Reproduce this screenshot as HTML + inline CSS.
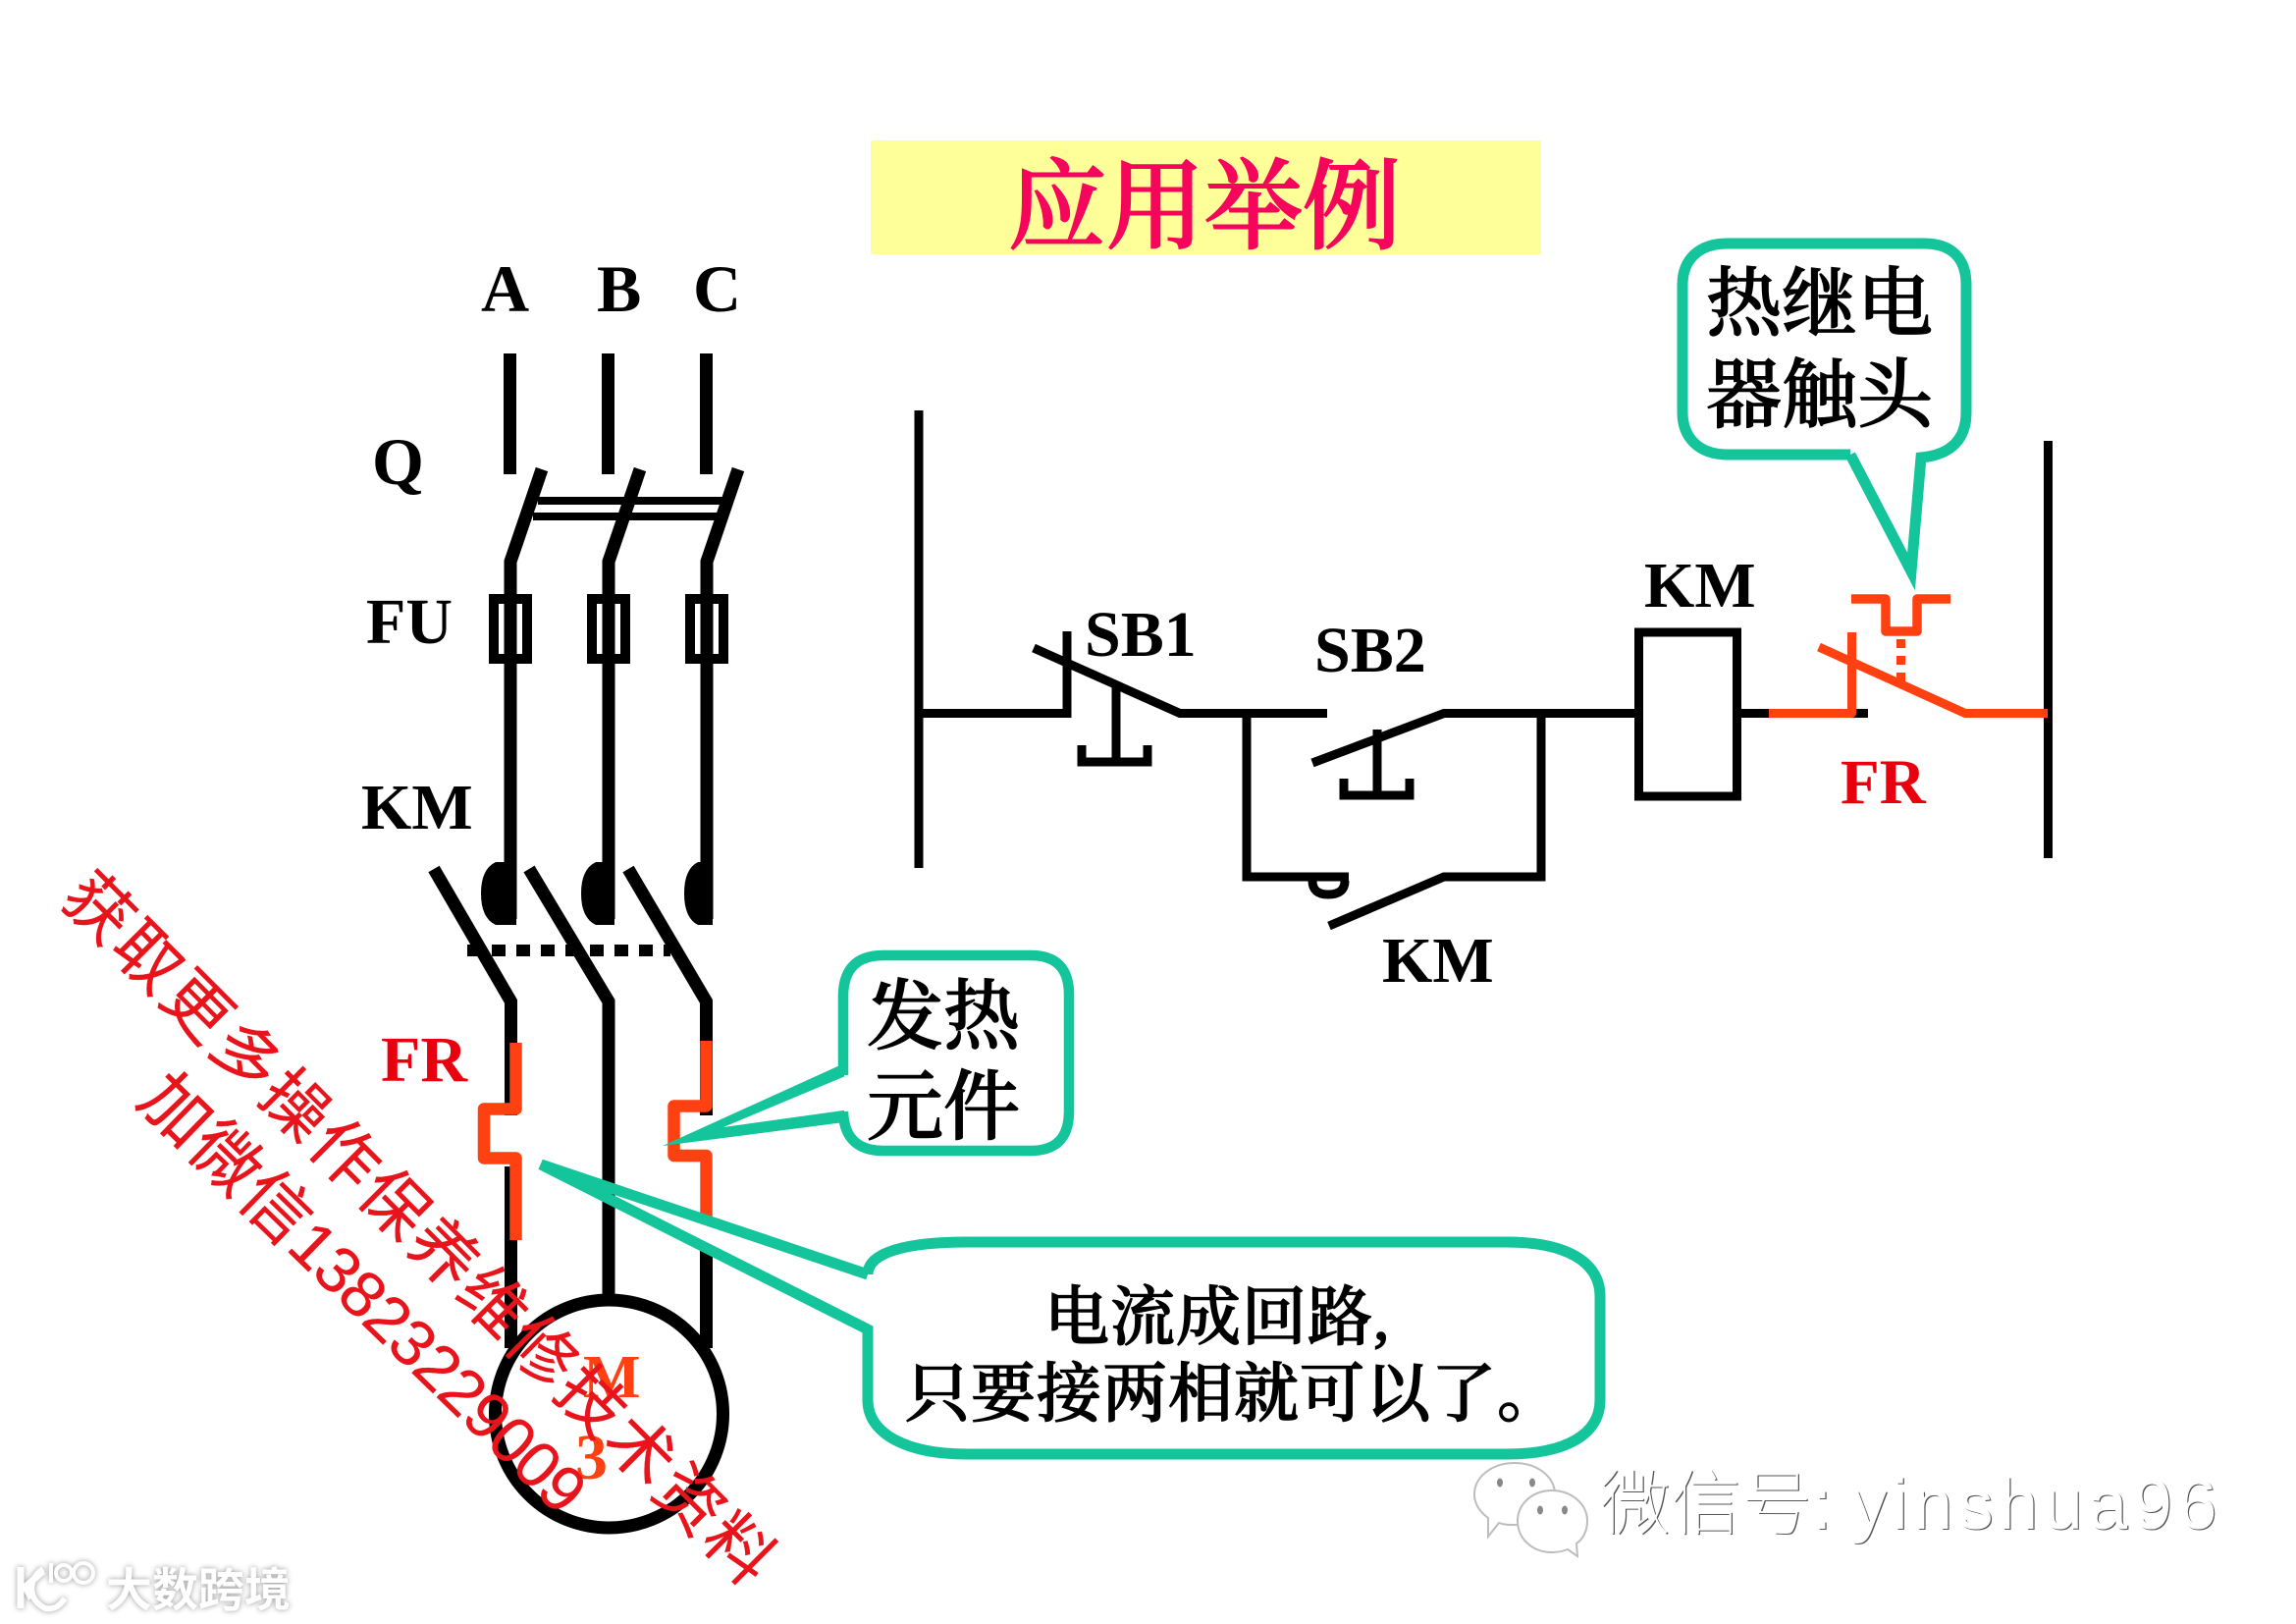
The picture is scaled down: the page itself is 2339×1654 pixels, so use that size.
<!DOCTYPE html>
<html lang="zh">
<head>
<meta charset="utf-8">
<title>应用举例</title>
<style>
html,body{margin:0;padding:0;background:#fff;}
svg{display:block;}
.t{font-family:"Liberation Serif","Noto Serif CJK SC",serif;font-weight:700;font-size:66px;fill:#000;}
.cn{font-family:"Liberation Serif","Noto Serif CJK SC",serif;font-weight:500;fill:#000;stroke:#000;stroke-width:1.4px;}
.wm{font-family:"Liberation Sans","Noto Sans CJK SC",sans-serif;font-size:66px;fill:#e8141c;}
.k{fill:none;stroke:#000;stroke-linejoin:miter;}
.o{fill:none;stroke:#ff4010;stroke-linejoin:round;}
.g{fill:none;stroke:#14c49a;stroke-linejoin:miter;}
</style>
</head>
<body>
<svg width="2339" height="1654" viewBox="0 0 2339 1654" xmlns="http://www.w3.org/2000/svg">
<rect width="2339" height="1654" fill="#fff"/>

<!-- title -->
<rect x="887" y="143" width="683" height="116" fill="#ffff99"/>
<text x="1027" y="245" class="cn" style="font-size:100px;fill:#f5055c;stroke:#f5055c;stroke-width:2px">应用举例</text>

<!-- left power circuit labels -->
<text x="490" y="317" class="t" style="font-size:68px">A</text>
<text x="608" y="317" class="t" style="font-size:68px">B</text>
<text x="706" y="317" class="t" style="font-size:68px">C</text>
<text x="379" y="493" class="t" style="font-size:68px">Q</text>
<text x="373" y="655" class="t">FU</text>
<text x="368" y="844" class="t">KM</text>

<!-- Q -->
<g class="k" stroke-width="13">
<path d="M519.5,360V483M619.5,360V483M719.5,360V483"/>
<path d="M552,478L520,572V936M652,478L620,572V936M752,478L720,572V936"/>
</g>
<path d="M548,510H737M543,526H732" class="k" stroke-width="8"/>

<!-- fuses -->
<g class="k" stroke-width="10">
<rect x="503" y="610" width="34" height="61"/>
<rect x="603" y="610" width="34" height="61"/>
<rect x="703" y="610" width="34" height="61"/>
</g>

<!-- KM main contacts -->
<path d="M526,878H505Q490,885 490,910Q490,935 505,942H526Z"/>
<path d="M626,878H607Q592,885 592,910Q592,935 607,942H626Z"/>
<path d="M726,878H711Q697,885 697,910Q697,935 711,942H726Z"/>
<path d="M476,968H683" class="k" stroke-width="12" stroke-dasharray="14 11"/>
<g class="k" stroke-width="13">
<path d="M442,885L520.5,1020V1136M520.5,1188V1373"/>
<path d="M539,885L620,1020V1320"/>
<path d="M640,885L719.5,1020V1136M719.5,1274V1373"/>
</g>

<!-- motor -->
<circle cx="620.5" cy="1440" r="116" fill="none" stroke="#000" stroke-width="13"/>
<text x="594" y="1423" class="t" style="font-size:62px;fill:#ff4010">M</text>
<text x="586" y="1506" class="t" style="fill:#ff4010">3</text>

<!-- FR heater -->
<text x="388" y="1101" class="t" style="fill:#e8000f">FR</text>
<path d="M525.5,1062V1129.5H493V1179.5H525.5V1263" class="o" stroke-width="12.5"/>
<path d="M719.5,1060V1126.5H686.5V1177H719.5V1240" class="o" stroke-width="12.5"/>

<!-- teal callouts on power circuit -->
<path d="M859,1095V1013Q860,973 900,973H1050Q1089,973 1089,1013V1132Q1089,1172 1050,1172H900Q860,1172 859,1132" class="g" stroke-width="10.5"/>
<path d="M675,1167L860,1083L860,1143Z" fill="#14c49a"/>
<path d="M737,1148L866,1094L866,1130Z" fill="#fff"/>
<text x="883" y="1062" class="cn" style="font-size:78px">发热</text>
<text x="883" y="1154" class="cn" style="font-size:78px">元件</text>

<path d="M884,1298C884,1275 925,1265 985,1265H1535C1595,1265 1630,1285 1630,1320V1426C1630,1461 1595,1481 1535,1481H985C925,1481 884,1461 884,1426V1354L551,1186L884,1298" class="g" stroke-width="11"/>
<text x="1064" y="1364" class="cn" style="font-size:66px;letter-spacing:1px">电流成回路,</text>
<text x="922" y="1442" class="cn" style="font-size:66px;letter-spacing:1px">只要接两相就可以了。</text>

<!-- control circuit -->
<g class="k" stroke-width="9">
<path d="M936,418V884"/>
<path d="M936,726.5H1087V643"/>
<path d="M1053,660L1202,726.5H1352"/>
<path d="M1137,700V776M1102,759V776H1169V759"/>
<path d="M1270,726.5V893H1374"/>
<path d="M1337,777L1471,726.5H1665"/>
<path d="M1403,743V810M1369,793V810H1436V793"/>
<path d="M1570,726.5V893H1471L1354,943"/>
<path d="M1337,897Q1337,911 1353,911Q1370,911 1370,897"/>
<rect x="1669.5" y="644" width="100" height="167"/>
<path d="M1774,726.5H1903"/>
<path d="M2086.5,449V874"/>
</g>
<text x="1105" y="668" class="t">SB1</text>
<text x="1339" y="684" class="t">SB2</text>
<text x="1408" y="1000" class="t">KM</text>
<text x="1675" y="618" class="t">KM</text>
<text x="1875" y="818" class="t" style="fill:#e8000f;font-size:65px">FR</text>

<!-- FR contact -->
<g class="o" stroke-width="9">
<path d="M1802,726.5H1886.5V644"/>
<path d="M1853,659L2002,726.5H2086"/>
</g>
<path d="M1886,610H1921V643H1953V610H1987" class="o" stroke-width="9.5"/>
<path d="M1936.5,651V695" class="o" stroke-width="9" stroke-dasharray="9 8" style="stroke-linejoin:miter"/>

<!-- thermal relay contact callout -->
<path d="M1885,463H1760C1730,463 1714,445 1714,420V290C1714,265 1730,248 1760,248H1960C1990,248 2003,265 2003,290V420C2003,445 1990,463 1957,466L1947,582L1885,463" class="g" stroke-width="11"/>
<text x="1738" y="336" class="cn" style="font-size:77px">热继电</text>
<text x="1738" y="429" class="cn" style="font-size:77px">器触头</text>

<!-- red diagonal watermark -->
<text transform="translate(100,924) rotate(45)" x="-33" y="24" class="wm" style="letter-spacing:3px;font-size:68px;stroke:#e8141c;stroke-width:.3px">获取更多操作保养维修技术资料</text>
<text transform="translate(178,1129) rotate(44.3)" x="-33" y="24" class="wm" style="stroke:#e8141c;stroke-width:.3px"><tspan style="font-size:70px;letter-spacing:1px">加微信</tspan><tspan style="letter-spacing:-1.2px">13823229009</tspan></text>

<!-- bottom-left logo -->
<g fill="none" stroke="#fff" stroke-width="7" style="filter:drop-shadow(0 0 3px #999)">
<path d="M21,1596V1638"/>
<path d="M44,1600L26,1616L32,1628"/>
<path d="M44,1598C30,1606 26,1628 46,1638C56,1640 62,1634 66,1628" stroke-width="6"/>
<path d="M52,1592V1612" stroke-width="4"/>
<circle cx="65" cy="1602" r="8" stroke-width="4"/>
<circle cx="85" cy="1602" r="10" stroke-width="4"/>
</g>
<text x="108" y="1636" class="wm" style="font-size:47px;font-weight:700;fill:#fff;filter:drop-shadow(0 0 3px #999)">大数跨境</text>

<!-- bottom-right wechat watermark -->
<g fill="#fff" stroke="#bdbdbd" stroke-width="2">
<path d="M1543,1490C1566,1490 1584,1504 1584,1522C1584,1540 1566,1553 1543,1553C1537,1553 1532,1553 1527,1551L1516,1565L1516,1546C1508,1540 1502,1532 1502,1522C1502,1504 1520,1490 1543,1490Z"/>
<path d="M1581,1518C1601,1518 1617,1532 1617,1549C1617,1560 1612,1568 1606,1572L1607,1585L1597,1578C1592,1580 1586,1581 1581,1581C1561,1581 1546,1567 1546,1549C1546,1532 1561,1518 1581,1518Z"/>
</g>
<g fill="#888">
<ellipse cx="1528" cy="1510" rx="3" ry="4.5"/><ellipse cx="1561" cy="1510" rx="3" ry="4.5"/>
<ellipse cx="1569" cy="1538" rx="3" ry="4.5"/><ellipse cx="1594" cy="1538" rx="3" ry="4.5"/>
</g>
<text x="1630" y="1557" class="wm" style="font-size:72px;font-weight:100;fill:#555" transform="translate(1.2,.8)">微信号: <tspan style="letter-spacing:5.5px">yinshua96</tspan></text>
<text x="1630" y="1557" class="wm" style="font-size:72px;font-weight:100;fill:#fff">微信号: <tspan style="letter-spacing:5.5px">yinshua96</tspan></text>
</svg>
</body>
</html>
